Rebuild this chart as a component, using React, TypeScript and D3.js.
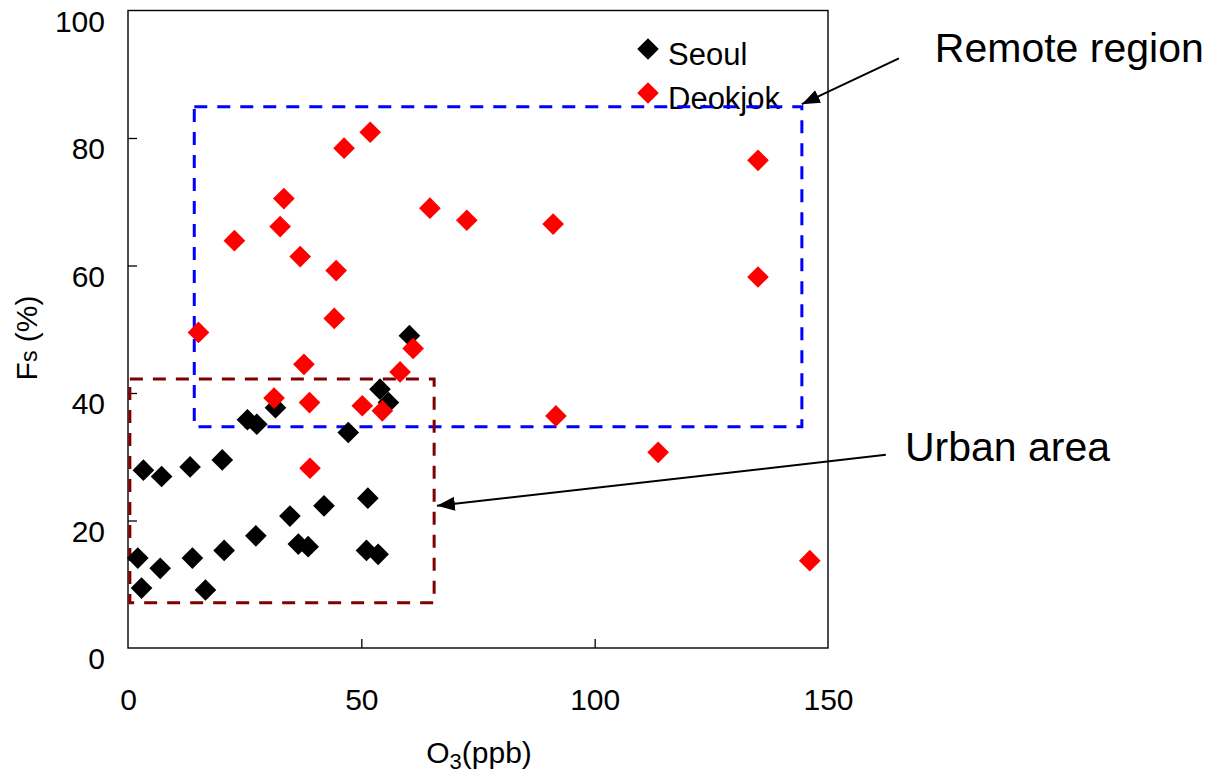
import React, { useEffect, useRef } from "react";
import * as d3 from "d3";

// Seoul (black diamonds)
const seoulO3 = [3.3, 7.2, 13.3, 20.2, 2.1, 6.9, 2.9, 13.8, 16.6, 20.6, 27.4, 34.7, 42.0, 36.5, 38.6, 51.4, 51.1, 53.6, 47.2, 25.6, 27.6, 31.6, 54.0, 55.8, 60.3];
const seoulFs = [27.9, 26.9, 28.4, 29.5, 14.1, 12.5, 9.4, 14.1, 9.1, 15.3, 17.6, 20.7, 22.3, 16.3, 15.9, 23.5, 15.3, 14.7, 33.8, 35.8, 35.1, 37.7, 40.6, 38.5, 49.0];

// Deokjok (red diamonds)
const deokjokO3 = [51.9, 46.3, 33.4, 64.7, 32.6, 22.8, 36.9, 44.6, 44.2, 15.1, 61.1, 37.7, 58.3, 31.3, 38.9, 50.2, 54.5, 39.0, 72.6, 91.1, 135.0, 135.0, 91.7, 113.6, 146.1];
const deokjokFs = [80.9, 78.4, 70.5, 69.0, 66.1, 63.9, 61.4, 59.2, 51.7, 49.5, 47.0, 44.5, 43.3, 39.2, 38.5, 38.0, 37.2, 28.2, 67.1, 66.5, 76.5, 58.2, 36.4, 30.7, 13.7];

const xTicks = [0, 50, 100, 150];
const yTicks = [0, 20, 40, 60, 80, 100];

// boxes: [x0, x1, y0, y1] in data units
const remoteBox = [14.2, 144.4, 34.7, 84.9];
const urbanBox = [0.4, 65.6, 7.1, 42.2];

// annotations: label position and arrow [fromX, fromY, toX, toY] in data units
const remoteLabel = { text: "Remote region", x: 172.9, y: 91.9 };
const remoteArrow = [165.2, 92.5, 144.4, 85.3];
const urbanLabel = { text: "Urban area", x: 166.5, y: 29.3 };
const urbanArrow = [162.4, 30.3, 66.2, 22.3];

const FONT = "'Liberation Sans', Arial, Helvetica, sans-serif";

export default function App() {
  const ref = useRef<SVGSVGElement>(null);

  useEffect(() => {
    if (!ref.current) return;
    const svg = d3.select(ref.current);
    svg.selectAll("*").remove();

    const left = 128, right = 828, top = 10.5, bottom = 648;
    const x = d3.scaleLinear().domain([0, 150]).range([left, right]);
    const y = d3.scaleLinear().domain([0, 100]).range([bottom, top]);

    svg
      .append("defs")
      .append("marker")
      .attr("id", "arrowhead")
      .attr("markerUnits", "userSpaceOnUse")
      .attr("markerWidth", 19)
      .attr("markerHeight", 15)
      .attr("refX", 18)
      .attr("refY", 7.5)
      .attr("orient", "auto")
      .append("path")
      .attr("d", "M0,0.5 L18,7.5 L0,14.5 Z")
      .attr("fill", "#000");

    // plot frame
    svg
      .append("rect")
      .attr("x", left)
      .attr("y", top)
      .attr("width", right - left)
      .attr("height", bottom - top)
      .attr("fill", "none")
      .attr("stroke", "#000")
      .attr("stroke-width", 1.4);

    // y axis, inward ticks, labels sit a bit below the tick
    const yAxis = svg
      .append("g")
      .attr("transform", `translate(${left},0)`)
      .call(
        d3.axisLeft(y).tickValues(yTicks).tickSizeInner(-9).tickSizeOuter(0).tickPadding(23)
      );
    yAxis.select(".domain").remove();
    yAxis.selectAll(".tick line").attr("stroke-width", 1.3).filter((d: any) => d === 0 || d === 100).remove();
    yAxis
      .selectAll("text")
      .attr("transform", "translate(0,11)")
      .style("font-family", FONT)
      .style("font-size", "30px")
      .attr("fill", "#000");

    const xAxis = svg
      .append("g")
      .attr("transform", `translate(0,${bottom})`)
      .call(
        d3.axisBottom(x).tickValues(xTicks).tickSizeInner(-9).tickSizeOuter(0).tickPadding(41)
      );
    xAxis.select(".domain").remove();
    xAxis.selectAll(".tick line").attr("stroke-width", 1.3).filter((d: any) => d === 0 || d === 150).remove();
    xAxis
      .selectAll("text")
      .style("font-family", FONT)
      .style("font-size", "30px")
      .attr("fill", "#000");

    // axis titles
    const xt = svg
      .append("text")
      .attr("x", 479)
      .attr("y", 763)
      .attr("text-anchor", "middle")
      .style("font-family", FONT)
      .style("font-size", "30px");
    xt.append("tspan").text("O");
    xt.append("tspan").attr("dy", 6).style("font-size", "22px").text("3");
    xt.append("tspan").attr("dy", -6).text("(ppb)");

    const yt = svg
      .append("text")
      .attr("transform", "translate(37,338) rotate(-90)")
      .attr("text-anchor", "middle")
      .style("font-family", FONT)
      .style("font-size", "30px");
    yt.append("tspan").text("F");
    yt.append("tspan").style("font-size", "23px").text("s");
    yt.append("tspan").text(" (%)");

    // legend
    const diamond = d3.symbol().type(d3.symbolSquare).size(235);
    const legend = [
      { name: "Seoul", color: "#000000", cy: 49 },
      { name: "Deokjok", color: "#ff0000", cy: 93 },
    ];
    legend.forEach((l) => {
      svg
        .append("path")
        .attr("d", diamond())
        .attr("transform", `translate(648,${l.cy}) rotate(45)`)
        .attr("fill", l.color);
      svg
        .append("text")
        .attr("x", 668)
        .attr("y", l.cy + 16)
        .style("font-family", FONT)
        .style("font-size", "31px")
        .text(l.name);
    });

    // dashed region boxes
    const boxes = [
      { b: remoteBox, color: "#0000ff" },
      { b: urbanBox, color: "#800000" },
    ];
    boxes.forEach(({ b, color }) => {
      svg
        .append("rect")
        .attr("x", x(b[0]))
        .attr("y", y(b[3]))
        .attr("width", x(b[1]) - x(b[0]))
        .attr("height", y(b[2]) - y(b[3]))
        .attr("fill", "none")
        .attr("stroke", color)
        .attr("stroke-width", 3)
        .attr("stroke-dasharray", "13,10");
    });

    // points
    const series = [
      { xs: seoulO3, ys: seoulFs, color: "#000000" },
      { xs: deokjokO3, ys: deokjokFs, color: "#ff0000" },
    ];
    series.forEach((s) => {
      svg
        .append("g")
        .selectAll("path")
        .data(s.xs.map((v, i) => [v, s.ys[i]]))
        .enter()
        .append("path")
        .attr("d", diamond())
        .attr("transform", (d) => `translate(${x(d[0])},${y(d[1])}) rotate(45)`)
        .attr("fill", s.color);
    });

    // annotations
    [
      { label: remoteLabel, arrow: remoteArrow },
      { label: urbanLabel, arrow: urbanArrow },
    ].forEach(({ label, arrow }) => {
      svg
        .append("text")
        .attr("x", x(label.x))
        .attr("y", y(label.y))
        .style("font-family", FONT)
        .style("font-size", "41px")
        .text(label.text);
      svg
        .append("line")
        .attr("x1", x(arrow[0]))
        .attr("y1", y(arrow[1]))
        .attr("x2", x(arrow[2]))
        .attr("y2", y(arrow[3]))
        .attr("stroke", "#000")
        .attr("stroke-width", 2)
        .attr("marker-end", "url(#arrowhead)");
    });
  }, []);

  return (
    <svg
      ref={ref}
      width={1219}
      height={773}
      style={{ position: "absolute", left: 0, top: 0, background: "#fff" }}
    />
  );
}
